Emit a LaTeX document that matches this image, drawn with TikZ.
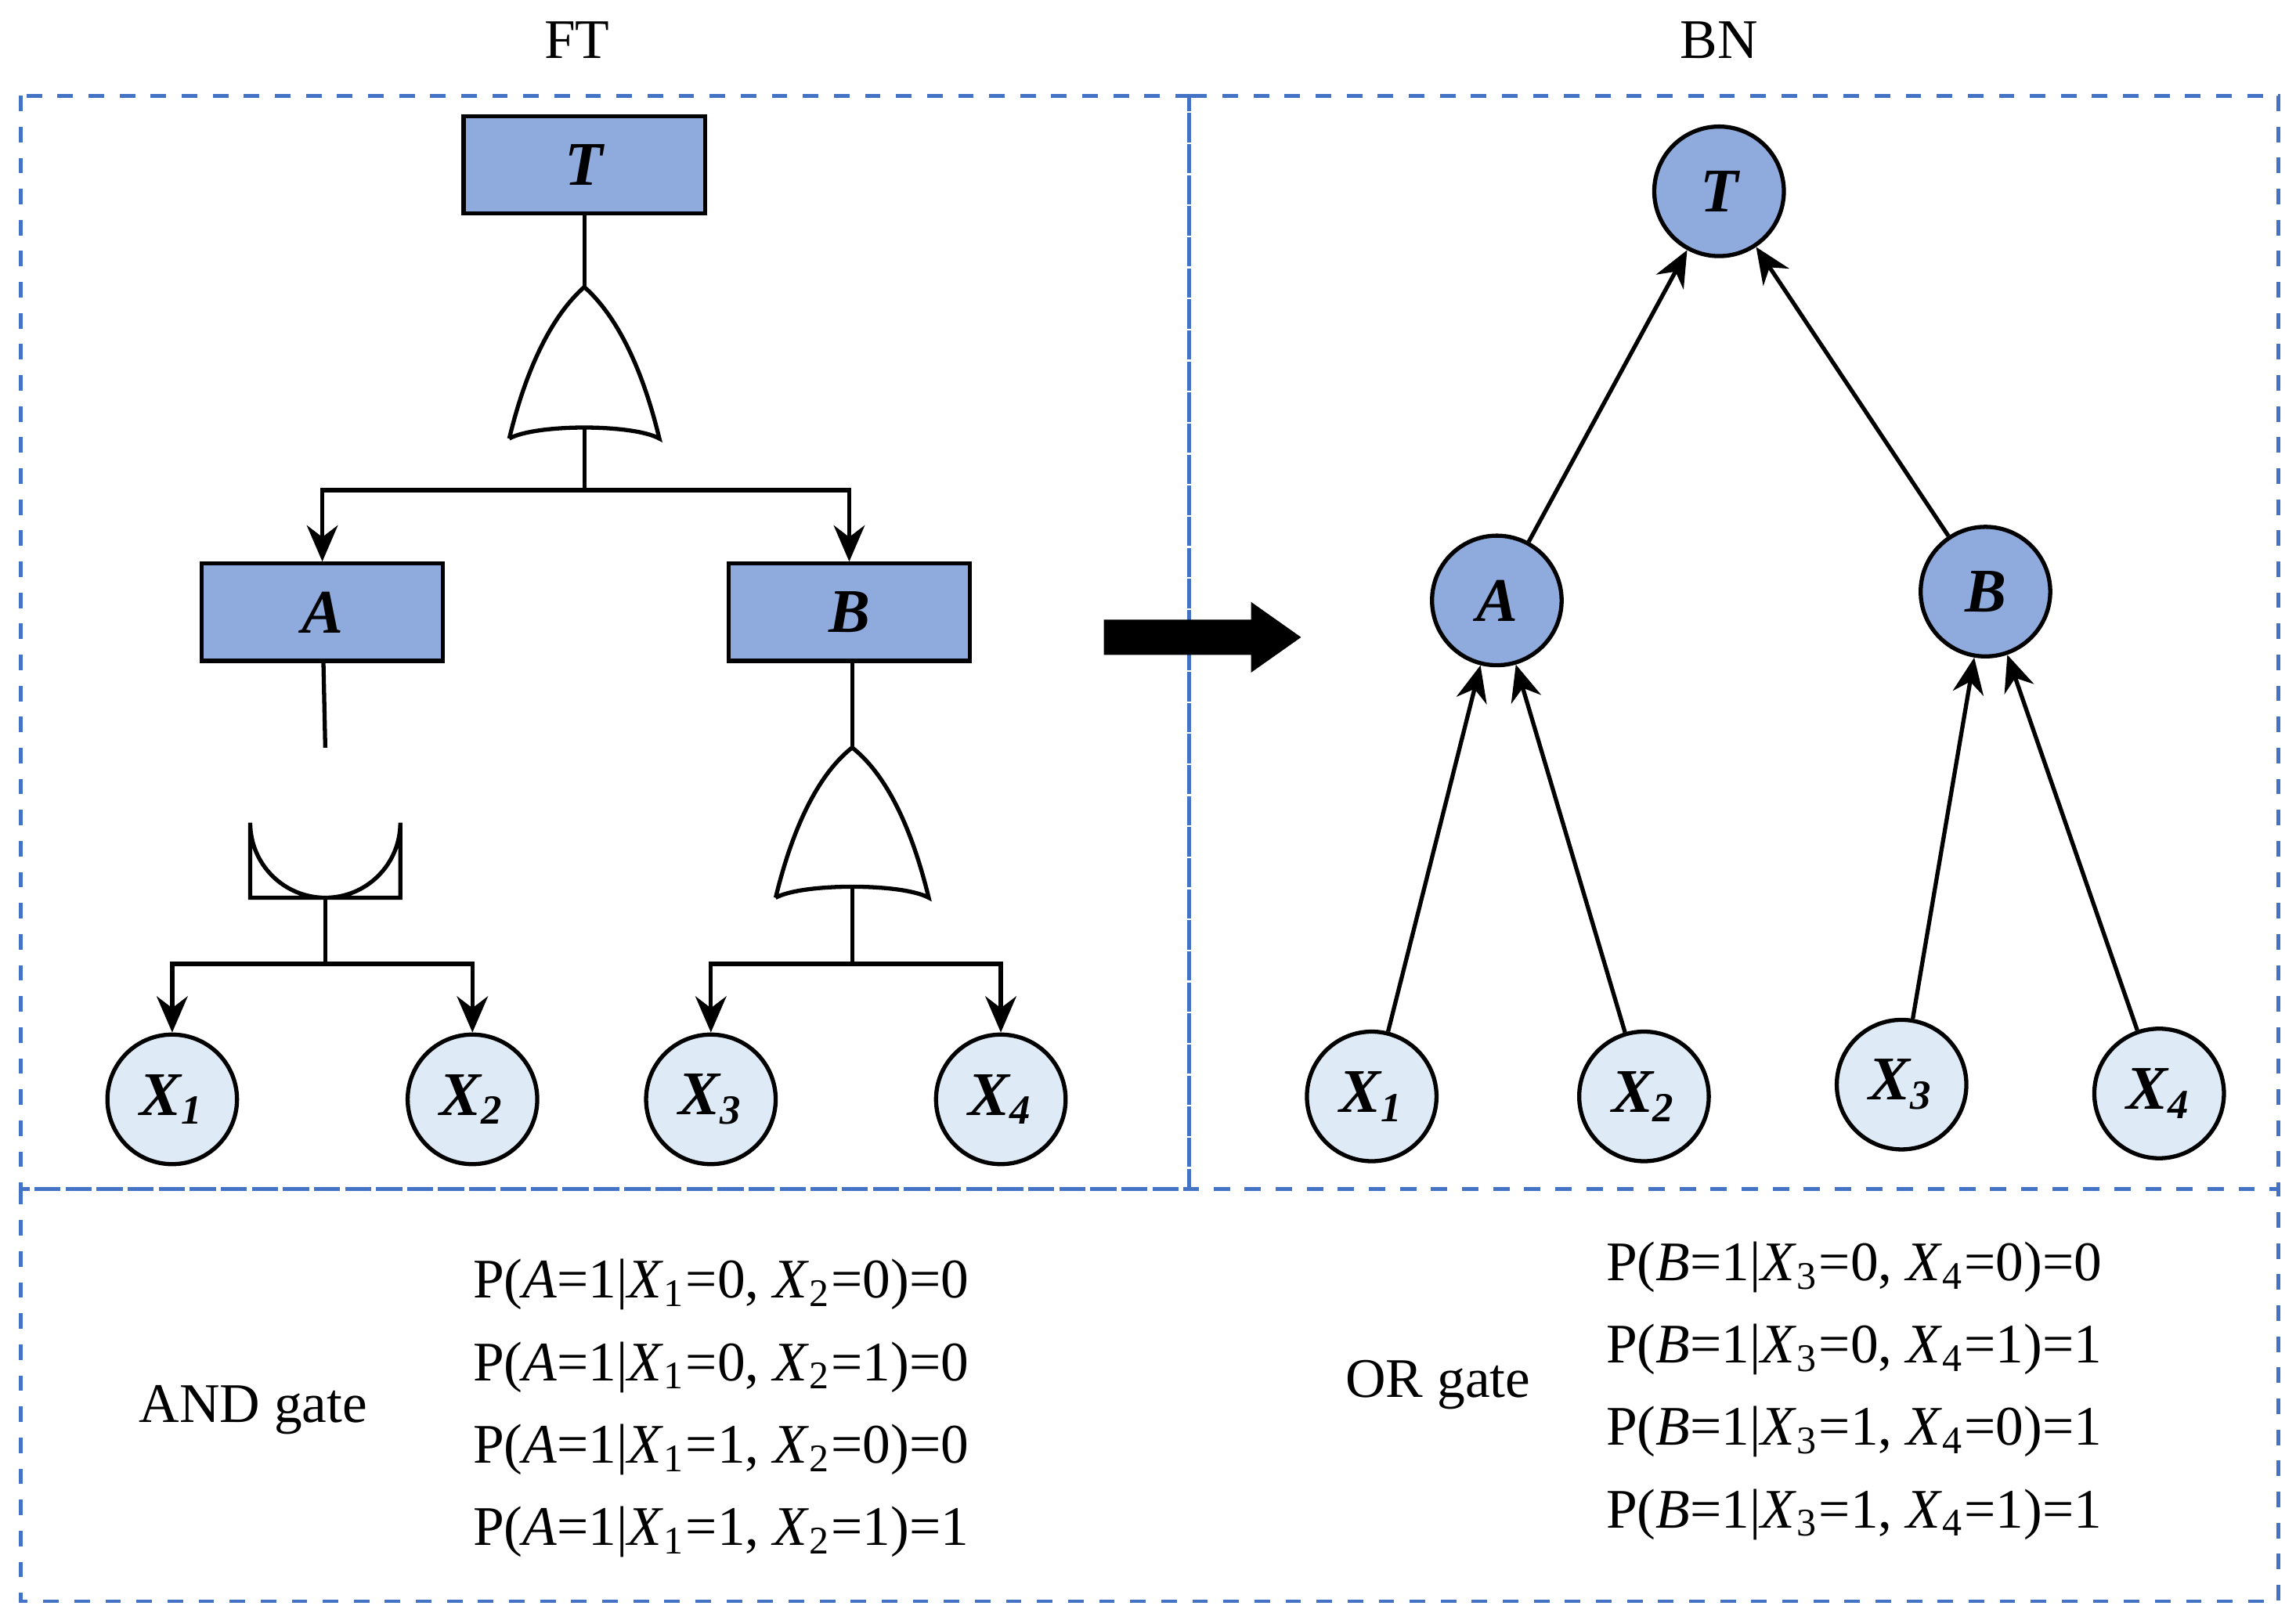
\documentclass[tikz,border=0pt]{standalone}
\usepackage{fontspec}
\setmainfont{Liberation Serif}
\usetikzlibrary{arrows.meta}
\definecolor{BoxBlue}{RGB}{68,114,196}
\definecolor{GateFill}{RGB}{143,170,220}
\definecolor{LeafFill}{RGB}{222,235,247}
\begin{document}
\begin{tikzpicture}[x=0.01cm,y=-0.01cm,line width=0.8pt]
				\tikzstyle{rect}=[draw, fill=GateFill, minimum width=1.64cm, minimum height=0.66cm, font=\fontsize{12}{14}\selectfont\bfseries\itshape];
				\tikzstyle{circ}=[draw, circle, minimum size=0.88cm, inner sep=0pt, font=\fontsize{12}{14}\selectfont\bfseries\itshape];
				\tikzstyle{arr}=[-{Stealth[length=7pt,width=6pt]}];
				\tikzstyle{box}=[draw=BoxBlue, dashed, line width=0.7pt];
				\tikzstyle{txt}=[font=\fontsize{10.8}{13}\selectfont, inner sep=0pt];
				\useasboundingbox (0,0) rectangle (1560,1096);
				% boxes
				\draw[box] (14,65) rectangle (808,808);
				\draw[box] (808,65) rectangle (1548,808);
				\draw[box] (14,808) rectangle (1548,1088);
				\node[txt] (lft) at (392,27) {FT};
				\node[txt] (lbn) at (1168,27) {BN};
				% fault tree
				\node[rect] (ft) at (397,112) {T};
				\node[rect] (fa) at (219,416) {A};
				\node[rect] (fb) at (577,416) {B};
				\node[circ, fill=LeafFill] (fx1) at (117,747) {X\textsubscript{1}};
				\node[circ, fill=LeafFill] (fx2) at (321,747) {X\textsubscript{2}};
				\node[circ, fill=LeafFill] (fx3) at (483,747) {X\textsubscript{3}};
				\node[circ, fill=LeafFill] (fx4) at (680,747) {X\textsubscript{4}};
				% gates
				\draw (346,298) .. controls (360,240) and (380,210) .. (397,195) .. controls (414,210) and (434,240) .. (448,298) .. controls (430,288) and (364,288) .. (346,298);
				\coordinate (g1t) at (397,195);
				\coordinate (g1b) at (397,290);
				\draw (170,610) -- (170,559) arc (180:0:51) -- (272,610) -- cycle;
				\coordinate (g2t) at (221,508);
				\coordinate (g2b) at (221,610);
				\draw (527,610) .. controls (541,552) and (561,522) .. (579,508) .. controls (597,522) and (617,552) .. (631,610) .. controls (613,600) and (545,600) .. (527,610);
				\coordinate (g3t) at (579,508);
				\coordinate (g3b) at (579,602);
				\draw (ft) -- (g1t);
				\draw (fa) -- (g2t);
				\draw (fb.south -| g3t) -- (g3t);
				\draw[arr] (g1b) |- (219,333) -- (fa);
				\draw[arr] (g1b) |- (577,333) -- (fb);
				\draw[arr] (g2b) |- (117,655) -- (fx1);
				\draw[arr] (g2b) |- (321,655) -- (fx2);
				\draw[arr] (g3b) |- (483,655) -- (fx3);
				\draw[arr] (g3b) |- (680,655) -- (fx4);
				% big arrow
				\fill (750,421) -- (850,421) -- (850,409) -- (884,433) -- (850,457) -- (850,445) -- (750,445) -- cycle;
				% bayesian network
				\node[circ, fill=GateFill] (bt) at (1168,130) {T};
				\node[circ, fill=GateFill] (ba) at (1017,408) {A};
				\node[circ, fill=GateFill] (bb) at (1349,402) {B};
				\node[circ, fill=LeafFill] (bx1) at (932,745) {X\textsubscript{1}};
				\node[circ, fill=LeafFill] (bx2) at (1117,745) {X\textsubscript{2}};
				\node[circ, fill=LeafFill] (bx3) at (1292,737) {X\textsubscript{3}};
				\node[circ, fill=LeafFill] (bx4) at (1467,743) {X\textsubscript{4}};
				\draw[arr] (ba) -- (bt);
				\draw[arr] (bb) -- (bt);
				\draw[arr] (bx1) -- (ba);
				\draw[arr] (bx2) -- (ba);
				\draw[arr] (bx3) -- (bb);
				\draw[arr] (bx4) -- (bb);
				% tables
				\node[txt] (tand) at (172,958) {AND gate};
				\node[txt, anchor=west] (pa1) at (320,873) {P(\textit{A}=1|\textit{X}\textsubscript{1}=0, \textit{X}\textsubscript{2}=0)=0};
				\node[txt, anchor=west] (pa2) at (320,929) {P(\textit{A}=1|\textit{X}\textsubscript{1}=0, \textit{X}\textsubscript{2}=1)=0};
				\node[txt, anchor=west] (pa3) at (320,985) {P(\textit{A}=1|\textit{X}\textsubscript{1}=1, \textit{X}\textsubscript{2}=0)=0};
				\node[txt, anchor=west] (pa4) at (320,1041) {P(\textit{A}=1|\textit{X}\textsubscript{1}=1, \textit{X}\textsubscript{2}=1)=1};
				\node[txt] (tor) at (977,941) {OR gate};
				\node[txt, anchor=west] (pb1) at (1090,861) {P(\textit{B}=1|\textit{X}\textsubscript{3}=0, \textit{X}\textsubscript{4}=0)=0};
				\node[txt, anchor=west] (pb2) at (1090,917) {P(\textit{B}=1|\textit{X}\textsubscript{3}=0, \textit{X}\textsubscript{4}=1)=1};
				\node[txt, anchor=west] (pb3) at (1090,973) {P(\textit{B}=1|\textit{X}\textsubscript{3}=1, \textit{X}\textsubscript{4}=0)=1};
				\node[txt, anchor=west] (pb4) at (1090,1029) {P(\textit{B}=1|\textit{X}\textsubscript{3}=1, \textit{X}\textsubscript{4}=1)=1};
\end{tikzpicture}
\end{document}
